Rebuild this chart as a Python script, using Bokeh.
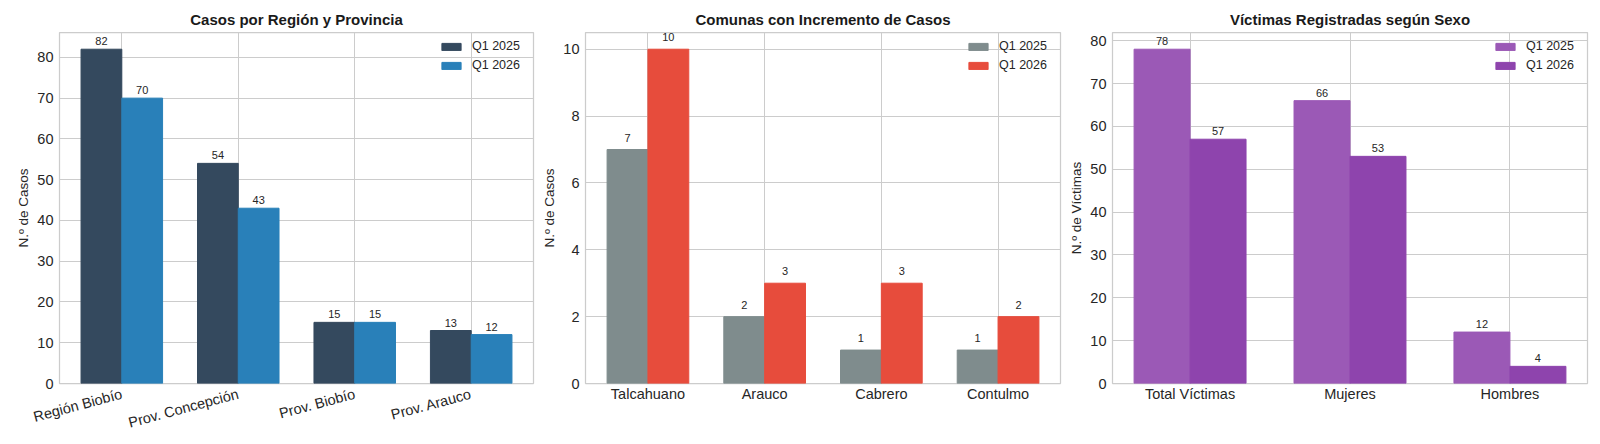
import numpy as np
from bokeh.plotting import figure
from bokeh.models import FixedTicker, Range1d, Legend, LegendItem
from bokeh.layouts import row
from bokeh.embed import file_html
from bokeh.resources import INLINE
from bokeh.core.properties import value

# ---------------- data ----------------
series_labels = ["Q1 2025", "Q1 2026"]

regiones = ["Región Biobío", "Prov. Concepción", "Prov. Biobío", "Prov. Arauco"]
regiones_q1_2025 = [82, 54, 15, 13]
regiones_q1_2026 = [70, 43, 15, 12]

comunas = ["Talcahuano", "Arauco", "Cabrero", "Contulmo"]
comunas_q1_2025 = [7, 2, 1, 1]
comunas_q1_2026 = [10, 3, 3, 2]

sexo = ["Total Víctimas", "Mujeres", "Hombres"]
sexo_q1_2025 = [78, 66, 12]
sexo_q1_2026 = [57, 53, 4]

regiones_yticks = [0, 10, 20, 30, 40, 50, 60, 70, 80]
comunas_yticks = [0, 2, 4, 6, 8, 10]
sexo_yticks = [0, 10, 20, 30, 40, 50, 60, 70, 80]

# ---------------- style ----------------
FONT = "Liberation Sans"
BAR_W = 0.35
GRID = "#cccccc"
TXT = "#262626"
HEIGHT = 444
TOP = 32
FRAME_H = 351


def make_panel(title, cats, a, b, colors, ylabel, yticks, width, bl, br,
               rotate=False, lab_off=-4):
    n = len(cats)
    x = np.arange(n)
    lo, hi = -BAR_W, (n - 1) + BAR_W
    pad = (hi - lo) * 0.05
    ymax = max(max(a), max(b)) * 1.05
    p = figure(width=width, height=HEIGHT,
               x_range=Range1d(lo - pad, hi + pad), y_range=Range1d(0, ymax),
               output_backend="svg", toolbar_location=None,
               min_border_left=bl, min_border_right=br,
               min_border_top=TOP, min_border_bottom=HEIGHT - TOP - FRAME_H,
               title=title)
    p.background_fill_color = "white"
    p.border_fill_color = "white"
    p.outline_line_color = GRID
    p.outline_line_width = 1.25

    p.title.text_font = FONT
    p.title.text_font_size = "15px"
    p.title.text_font_style = "bold"
    p.title.text_color = "#1a1a1a"
    p.title.align = "center"
    p.title.standoff = 9

    r1 = p.vbar(x=x - BAR_W / 2, top=a, width=BAR_W, fill_color=colors[0],
                line_color=colors[0], line_width=1)
    r2 = p.vbar(x=x + BAR_W / 2, top=b, width=BAR_W, fill_color=colors[1],
                line_color=colors[1], line_width=1)

    for xs, vals in ((x - BAR_W / 2, a), (x + BAR_W / 2, b)):
        p.text(x=xs, y=vals, text=[str(v) for v in vals],
               text_align="center", text_baseline="bottom", y_offset=lab_off,
               text_font=value(FONT), text_font_size="11px", text_color=TXT)

    xt = FixedTicker(ticks=list(range(n)))
    yt = FixedTicker(ticks=yticks)
    p.xaxis.ticker = xt
    p.xgrid.ticker = xt
    p.yaxis.ticker = yt
    p.ygrid.ticker = yt
    p.xaxis.major_label_overrides = {i: c for i, c in enumerate(cats)}
    for g in (p.xgrid, p.ygrid):
        g.grid_line_color = GRID
        g.grid_line_width = 1

    for ax in (p.xaxis, p.yaxis):
        ax.axis_line_color = None
        ax.major_tick_out = 0
        ax.major_tick_in = 0
        ax.minor_tick_out = 0
        ax.minor_tick_in = 0
        ax.major_label_text_font = FONT
        ax.major_label_text_font_size = "14.5px"
        ax.major_label_text_color = TXT
    p.yaxis.major_label_standoff = 6
    p.xaxis.major_label_standoff = 2
    p.yaxis.axis_label = ylabel
    p.yaxis.axis_label_text_font = FONT
    p.yaxis.axis_label_text_font_size = "13.5px"
    p.yaxis.axis_label_text_font_style = "normal"
    p.yaxis.axis_label_text_color = TXT
    p.yaxis.axis_label_standoff = 3
    if rotate:
        p.xaxis.major_label_orientation = np.deg2rad(15)
        p.xaxis.major_label_standoff = 10

    legend = Legend(items=[LegendItem(label=series_labels[0], renderers=[r1]),
                           LegendItem(label=series_labels[1], renderers=[r2])],
                    location="top_right", margin=7, padding=5,
                    border_line_color=None, background_fill_alpha=0,
                    label_text_font=FONT, label_text_font_size="12.5px",
                    label_text_color=TXT, glyph_width=24, glyph_height=9,
                    label_height=14, label_width=54, label_standoff=9, spacing=5)
    p.add_layout(legend)
    return p


p1 = make_panel("Casos por Región y Provincia", regiones, regiones_q1_2025, regiones_q1_2026,
                ["#34495e", "#2980b9"], "N.º de Casos", regiones_yticks, 535, 59, 2, rotate=True)
p2 = make_panel("Comunas con Incremento de Casos", comunas, comunas_q1_2025, comunas_q1_2026,
                ["#7f8c8d", "#e74c3c"], "N.º de Casos", comunas_yticks, 527, 50, 2, lab_off=-8)
p3 = make_panel("Víctimas Registradas según Sexo", sexo, sexo_q1_2025, sexo_q1_2026,
                ["#9b59b6", "#8e44ad"], "N.º de Víctimas", sexo_yticks, 538, 50, 13)

layout = row(p1, p2, p3)
open("out.html", "w").write(file_html(layout, INLINE))
